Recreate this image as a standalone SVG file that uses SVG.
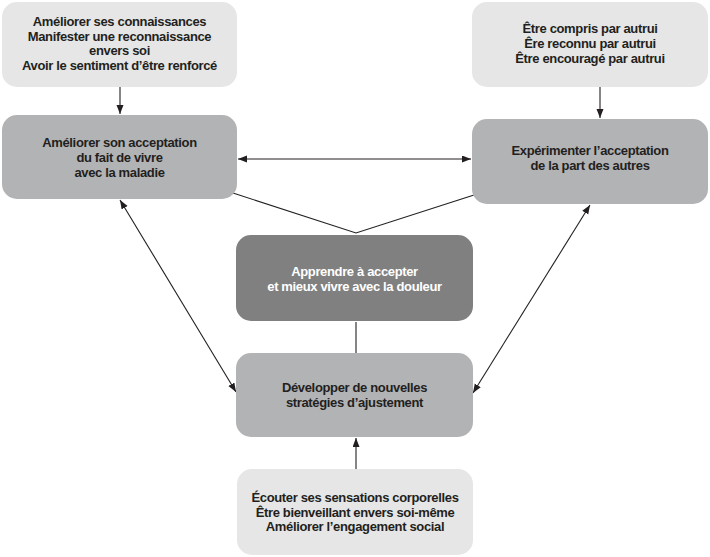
<svg xmlns="http://www.w3.org/2000/svg" width="710" height="557" viewBox="0 0 710 557">
<defs>
<style>
.light{fill:#e6e6e6}
.mid{fill:#b2b3b5}
.dark{fill:#808080}
text{font-family:"Liberation Sans",Arial,sans-serif;font-weight:bold;font-size:13px;letter-spacing:-0.35px;text-anchor:middle;fill:#231f20}
.w{fill:#ffffff}
.c{stroke:#231f20;stroke-width:1.1;fill:none}
</style>
<marker id="ah" markerWidth="10" markerHeight="8" refX="9" refY="3.5" orient="auto-start-reverse" markerUnits="userSpaceOnUse">
<path d="M0,0 L9,3.5 L0,7 Z" fill="#231f20"/>
</marker>
</defs>
<rect width="710" height="557" fill="#ffffff"/>
<g id="connectors">
<line class="c" x1="120" y1="87" x2="120" y2="114" marker-end="url(#ah)"/>
<line class="c" x1="600" y1="87" x2="600" y2="118" marker-end="url(#ah)"/>
<line class="c" x1="238" y1="159" x2="471" y2="159" marker-start="url(#ah)" marker-end="url(#ah)"/>
<polyline class="c" points="233,193 356,233 474,195"/>
<line class="c" x1="356" y1="322" x2="356" y2="353"/>
<line class="c" x1="356" y1="469" x2="356" y2="438" marker-end="url(#ah)"/>
<line class="c" x1="120" y1="200" x2="236" y2="392" marker-start="url(#ah)" marker-end="url(#ah)"/>
<line class="c" x1="590" y1="205" x2="473" y2="393" marker-start="url(#ah)" marker-end="url(#ah)"/>
</g>
<g id="n1">
<rect class="light" x="2" y="2" width="235" height="85" rx="15"/>
<text x="119.5" y="26">Améliorer ses connaissances</text>
<text x="119.5" y="40.5">Manifester une reconnaissance</text>
<text x="119.5" y="55">envers soi</text>
<text x="119.5" y="69.5">Avoir le sentiment d’être renforcé</text>
</g>
<g id="n2">
<rect class="light" x="472" y="2" width="236" height="85" rx="15"/>
<text x="590" y="33.3">Être compris par autrui</text>
<text x="590" y="48">Êre reconnu par autrui</text>
<text x="590" y="62.7">Être encouragé par autrui</text>
</g>
<g id="n3">
<rect class="mid" x="2" y="115" width="235" height="84" rx="15"/>
<text x="119.5" y="147">Améliorer son acceptation</text>
<text x="119.5" y="162">du fait de vivre</text>
<text x="119.5" y="177">avec la maladie</text>
</g>
<g id="n4">
<rect class="mid" x="472" y="119" width="236" height="85" rx="15"/>
<text x="590" y="155">Expérimenter l’acceptation</text>
<text x="590" y="169.5">de la part des autres</text>
</g>
<g id="n5">
<rect class="dark" x="236" y="235" width="237" height="86" rx="15"/>
<text class="w" x="354.5" y="276">Apprendre à accepter</text>
<text class="w" x="354.5" y="291">et mieux vivre avec la douleur</text>
</g>
<g id="n6">
<rect class="mid" x="236" y="353" width="237" height="84" rx="15"/>
<text x="354.5" y="392">Développer de nouvelles</text>
<text x="354.5" y="406.5">stratégies d’ajustement</text>
</g>
<g id="n7">
<rect class="light" x="237" y="469" width="236" height="86" rx="15"/>
<text x="355" y="502">Écouter ses sensations corporelles</text>
<text x="355" y="516.7">Être bienveillant envers soi-même</text>
<text x="355" y="531.3">Améliorer l’engagement social</text>
</g>
</svg>
